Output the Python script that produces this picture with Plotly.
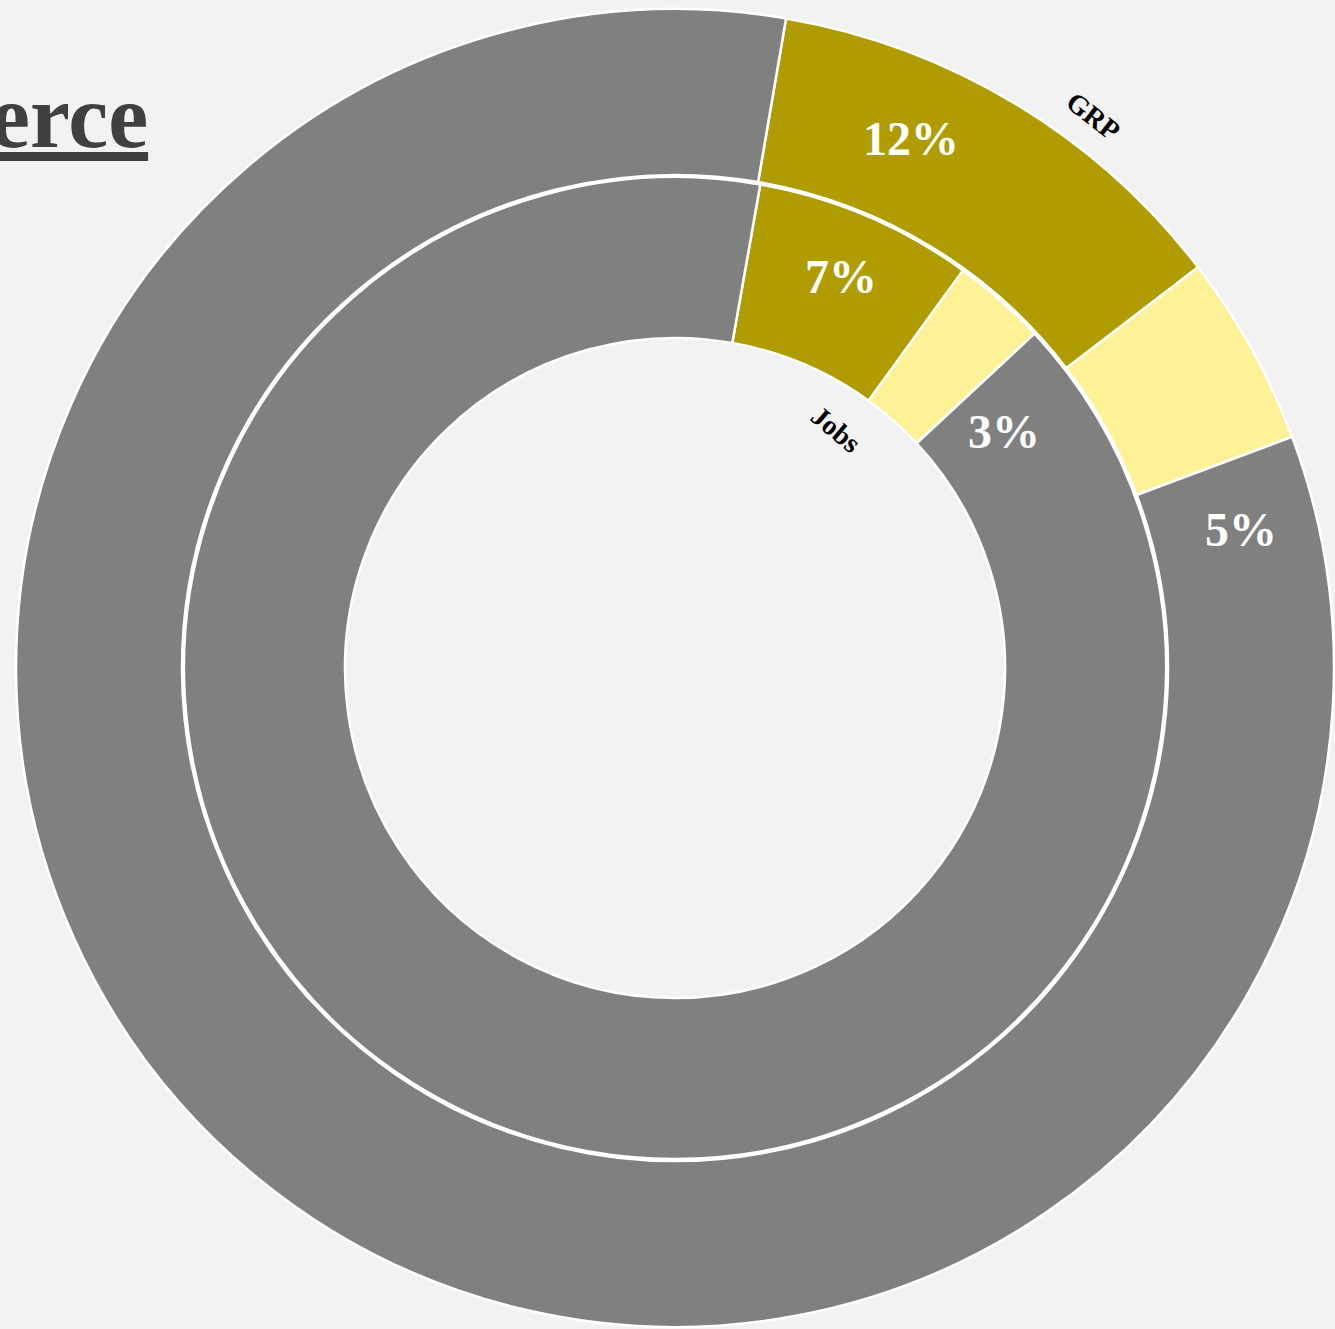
import math
import plotly.graph_objects as go

# ---- data ----
categories = ["Sector", "Other (related)", "Rest of economy"]
grp_share = [11.9, 4.7, 83.4]     # outer ring (GRP), %
jobs_share = [7.2, 3.1, 89.7]     # inner ring (Jobs), %
ring_names = ["GRP", "Jobs"]
title_text = "Commerce"

# ---- style ----
W, H = 1335, 1329
CX, CY = 675, 668          # pie centre in px (from top-left)
R_OUT, R_MID, R_IN = 659, 491, 330
colors = ["#b09c00", "#fff195", "#808080"]
BG = "#f2f2f2"
SERIF = "Liberation Serif"


def dom(r):
    return dict(x=[(CX - r) / W, (CX + r) / W],
                y=[1 - (CY + r) / H, 1 - (CY - r) / H])


def to_paper(ang, r):
    a = math.radians(ang)
    return (CX + r * math.sin(a)) / W, 1 - (CY - r * math.cos(a)) / H


fig = go.Figure()
fig.add_trace(go.Pie(
    labels=categories, values=grp_share, sort=False, direction="clockwise",
    rotation=9.7, hole=(R_MID + 2) / R_OUT, domain=dom(R_OUT),
    marker=dict(colors=colors, line=dict(color="white", width=2.5)),
    textinfo="none", hoverinfo="skip", showlegend=False, name=ring_names[0]))
fig.add_trace(go.Pie(
    labels=categories, values=jobs_share, sort=False, direction="clockwise",
    rotation=10, hole=R_IN / R_MID, domain=dom(R_MID),
    marker=dict(colors=colors, line=dict(color="white", width=2.5)),
    textinfo="none", hoverinfo="skip", showlegend=False, name=ring_names[1]))

annotations = []
# percentage labels (positions: angle deg clockwise from 12 o'clock, radius px)
label_pos_outer = [(24, 580), (76.3, 583)]
label_pos_inner = [(23, 425), (54.3, 405)]
for vals, pos in ((grp_share, label_pos_outer), (jobs_share, label_pos_inner)):
    for v, (ang, r) in zip(vals[:2], pos):
        x, y = to_paper(ang, r)
        annotations.append(dict(
            x=x, y=y, xref="paper", yref="paper", text=f"<b>{round(v)}%</b>",
            showarrow=False, xanchor="center", yanchor="middle",
            font=dict(family=SERIF, size=48, color="white")))

# ring name labels
for name, (ang, r, rot) in zip(ring_names, [(37.2, 693, 38), (34, 288, 40)]):
    x, y = to_paper(ang, r)
    annotations.append(dict(
        x=x, y=y, xref="paper", yref="paper", text=f"<b>{name}</b>",
        showarrow=False, textangle=rot, xanchor="center", yanchor="middle",
        font=dict(family=SERIF, size=28, color="black")))

# title (cut off at left edge)
annotations.append(dict(
    x=150 / W, y=1 - 116 / H, xref="paper", yref="paper",
    text=f"<b><u>{title_text}</u></b>", showarrow=False,
    xanchor="right", yanchor="middle",
    font=dict(family=SERIF, size=90, color="#404040")))

fig.update_layout(
    width=W, height=H, margin=dict(l=0, r=0, t=0, b=0),
    paper_bgcolor=BG, plot_bgcolor=BG, showlegend=False,
    annotations=annotations)

fig.write_html(
    "out.html",
    config={"displayModeBar": False},
    post_script="document.body.style.margin='0';"
                "document.body.style.background='#f2f2f2';")
